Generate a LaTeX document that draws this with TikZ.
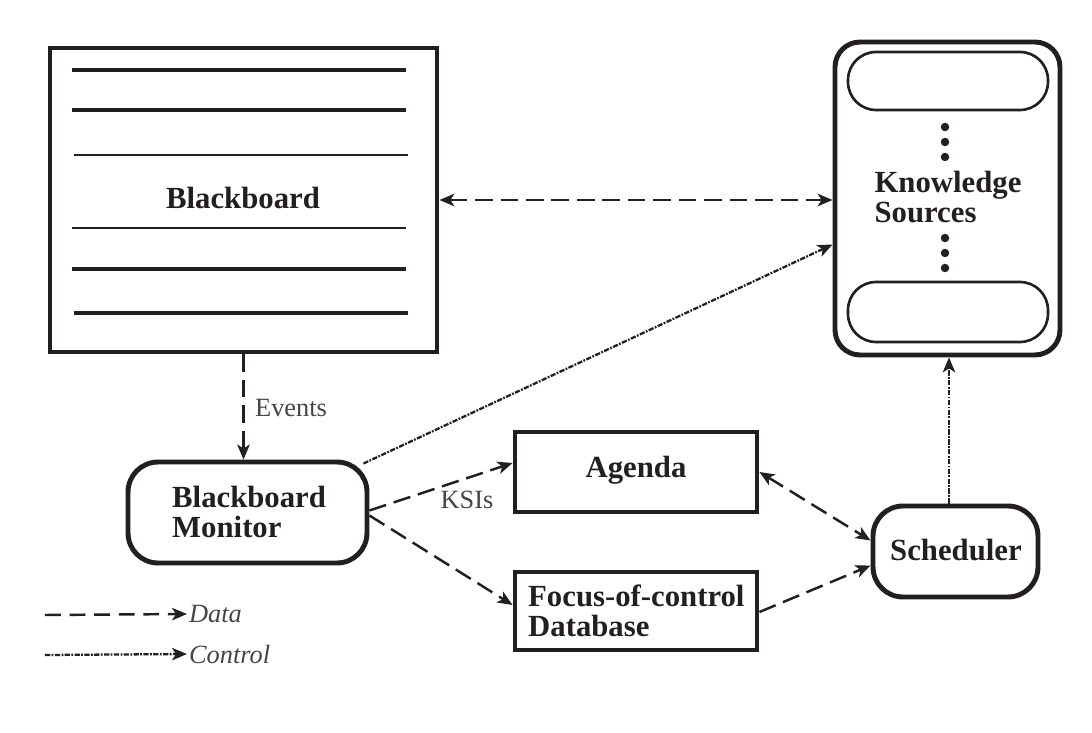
\documentclass[tikz,border=0pt]{standalone}
\usepackage{fontspec}
\setmainfont{Liberation Serif}
\usetikzlibrary{arrows.meta,calc}
\definecolor{ink}{RGB}{35,31,32}
\definecolor{labelgray}{RGB}{70,68,68}
\tikzset{
  box/.style={draw=ink, line width=2.8pt, rectangle, inner sep=0pt},
  rbox/.style={box, rounded corners=0.6cm},
  pill/.style={draw=ink, line width=1.5pt, rectangle, rounded corners=0.56cm, minimum width=4cm},
  title/.style={font=\fontsize{17.5}{19}\selectfont\bfseries, text=ink, align=left},
  small/.style={font=\fontsize{15}{16}\selectfont, text=labelgray},
  legend/.style={font=\fontsize{15}{17}\selectfont\itshape, text=labelgray, anchor=west, inner sep=1pt},
  arr/.tip={Stealth[length=0.3cm,width=0.25cm,inset=0.08cm]},
  tip/.style={-arr},
  both/.style={arr-arr},
  data/.style={draw=ink, line width=1.4pt, dash pattern=on 10pt off 4.5pt},
  ctrl/.style={draw=ink, line width=1.3pt, dash pattern=on 3pt off 0.8pt on 1pt off 0.8pt},
  rule/.style={draw=ink, line width=2pt},
  thinrule/.style={draw=ink, line width=1.2pt},
  ksdot/.style={fill=ink, circle, inner sep=0pt, minimum size=0.17cm},
}
\begin{document}
\begin{tikzpicture}[x=0.02cm, y=-0.02cm]
\useasboundingbox (0,0) rectangle (1092,733);

% Blackboard
\node[box, minimum width=7.74cm, minimum height=6.08cm] (bb) at (243.5,200) {};
\draw[rule] (72,70) -- (406,70);
\draw[rule] (72,110) -- (406,110);
\draw[thinrule] (74,155) -- (408,155);
\draw[thinrule] (72,228) -- (406,228);
\draw[rule] (72,269) -- (406,269);
\draw[rule] (74,313) -- (408,313);
\node[title] (bbt) at (243,198) {Blackboard};

% Knowledge sources
\node[box, rounded corners=0.5cm, minimum width=4.5cm, minimum height=6.26cm] (ks) at (947.5,198.5) {};
\node[pill, minimum height=1.16cm] (ks1) at (948,81) {};
\node[pill, minimum height=1.2cm] (ks2) at (948,312) {};
\node[ksdot] (d1) at (945,127) {};
\node[ksdot] (d2) at (945,142) {};
\node[ksdot] (d3) at (945,157) {};
\node[ksdot] (d4) at (945,238) {};
\node[ksdot] (d5) at (945,253) {};
\node[ksdot] (d6) at (945,268) {};
\node[title] (kst) at (948,197) {Knowledge\\[-2pt]Sources};

% Monitor
\node[rbox, minimum width=4.78cm, minimum height=2.02cm] (mon) at (247.5,512.5) {};
\node[title, anchor=west] (mont) at (166,512) {Blackboard\\[-2pt]Monitor};

% Agenda
\node[box, minimum width=4.84cm, minimum height=1.6cm] (ag) at (636,472) {};
\node[title] (agt) at (636,470) {Agenda};

% Focus-of-control
\node[box, minimum width=4.84cm, minimum height=1.56cm] (fc) at (636,611) {};
\node[title, anchor=west] (fct) at (522,611) {Focus-of-control\\[-2pt]Database};

% Scheduler
\node[rbox, minimum width=3.3cm, minimum height=1.82cm] (sch) at (955.5,551.5) {};
\node[title] (scht) at (956,550) {Scheduler};

% Connectors
\draw[data, both] (bb.east) -- (bb.east -| ks.west);
\draw[data, tip] (bb.south) -- (bb.south |- mon.north);
\node[small, anchor=west] (ev) at (249,408) {Events};
\draw[ctrl, tip] ([shift={(-6,4)}]mon.north east) -- ([shift={(0,46)}]ks.west);
\draw[data, tip] ([shift={(0,-2)}]mon.east) -- ([shift={(0,-9)}]ag.west);
\node[small] (ksi) at (467,500) {KSIs};
\draw[data, tip] ([shift={(0,3)}]mon.east) -- ([shift={(0,-6)}]fc.west);
\draw[data, both] (ag.east) -- ([shift={(0,-11)}]sch.west);
\draw[data, tip] ([shift={(0,1)}]fc.east) -- ([shift={(0,14)}]sch.west);
\draw[ctrl, tip] ([xshift=-0.13cm]sch.north) -- ([xshift=-0.13cm]sch.north |- ks.south);

% Legend
\node[legend] (ld) at (187,614) {Data};
\node[legend] (lc) at (187,654) {Control};
\coordinate (ld0) at (45,615);
\coordinate (lc0) at (45,655);
\draw[data, tip, dash pattern=on 9pt off 5pt] (ld0) -- (ld.west);
\draw[ctrl, tip] (lc0) -- (lc.west);
\end{tikzpicture}
\end{document}
